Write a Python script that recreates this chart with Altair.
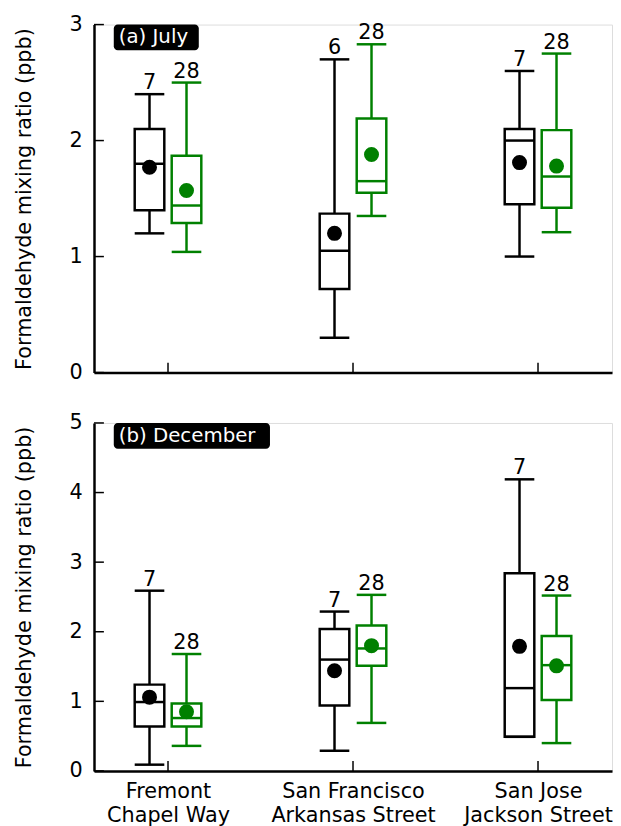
import altair as alt
import pandas as pd

# ---- data ----
site_lines = [["Fremont", "Chapel Way"], ["San Francisco", "Arkansas Street"], ["San Jose", "Jackson Street"]]
site_pos = [1, 2, 3]

# July (a)
jul_blk_lo = [1.20, 0.30, 1.00]
jul_blk_q1 = [1.40, 0.72, 1.45]
jul_blk_med = [1.80, 1.05, 2.00]
jul_blk_q3 = [2.10, 1.37, 2.10]
jul_blk_hi = [2.40, 2.70, 2.60]
jul_blk_mean = [1.77, 1.20, 1.81]
jul_blk_n = [7, 6, 7]

jul_grn_lo = [1.04, 1.35, 1.21]
jul_grn_q1 = [1.29, 1.55, 1.42]
jul_grn_med = [1.44, 1.65, 1.69]
jul_grn_q3 = [1.87, 2.19, 2.09]
jul_grn_hi = [2.50, 2.83, 2.75]
jul_grn_mean = [1.57, 1.88, 1.78]
jul_grn_n = [28, 28, 28]

# December (b)
dec_blk_lo = [0.09, 0.29, 0.49]
dec_blk_q1 = [0.64, 0.94, 0.49]
dec_blk_med = [0.99, 1.60, 1.19]
dec_blk_q3 = [1.24, 2.04, 2.84]
dec_blk_hi = [2.59, 2.29, 4.19]
dec_blk_mean = [1.06, 1.44, 1.79]
dec_blk_n = [7, 7, 7]

dec_grn_lo = [0.36, 0.69, 0.40]
dec_grn_q1 = [0.64, 1.51, 1.02]
dec_grn_med = [0.76, 1.76, 1.52]
dec_grn_q3 = [0.97, 2.09, 1.94]
dec_grn_hi = [1.68, 2.53, 2.52]
dec_grn_mean = [0.85, 1.80, 1.51]
dec_grn_n = [28, 28, 28]

jul_ticks = [0, 1, 2, 3]
dec_ticks = [0, 1, 2, 3, 4, 5]

GREEN = "#008000"
W, H = 524, 352
FONT = "DejaVu Sans"


def rows(group, offset, lo, q1, med, q3, hi, mean, n):
    out = []
    for i in range(3):
        out.append(dict(group=group, pos=site_pos[i], off=offset, lo=lo[i], q1=q1[i],
                        med=med[i], q3=q3[i], hi=hi[i], mean=mean[i], n=str(n[i])))
    return out


def panel(df, ticks, label, label_w, show_labels):
    xs = alt.Scale(domain=[0.6, 3.4], nice=False, zero=False)
    ys = alt.Scale(domain=[ticks[0], ticks[-1]], nice=False, zero=False)
    col = alt.Color("group:N", scale=alt.Scale(domain=["black", "green"], range=["black", GREEN]), legend=None)

    if show_labels:
        expr = " : ".join(
            f"datum.value == {p} ? {l!r}" for p, l in zip(site_pos[:-1], site_lines[:-1])
        ) + f" : {site_lines[-1]!r}"
        xaxis = alt.Axis(values=site_pos, tickSize=0, labelExpr=expr, labelFontSize=21,
                         labelPadding=10, labelLineHeight=24, title=None, grid=False,
                         domainColor="black", domainWidth=2.5, labelColor="black", labelFont=FONT)
    else:
        xaxis = alt.Axis(values=site_pos, tickSize=0, labels=False, title=None, grid=False,
                         domainColor="black", domainWidth=2.5)
    yaxis = alt.Axis(values=ticks, tickSize=0, labelFontSize=21, labelPadding=12, grid=False,
                     title="Formaldehyde mixing ratio (ppb)", titleFontSize=21, titleFontWeight="normal",
                     titleFont=FONT, labelFont=FONT, titlePadding=35, domainColor="black", domainWidth=2.5,
                     labelColor="black", titleColor="black")

    base = alt.Chart(df).transform_calculate(
        xc="datum.pos + datum.off", xl="datum.pos + datum.off - 0.08", xr="datum.pos + datum.off + 0.08"
    )
    X = lambda f: alt.X(f"{f}:Q", scale=xs, axis=xaxis)
    Y = lambda f: alt.Y(f"{f}:Q", scale=ys, axis=yaxis)

    lw = 2.5
    wlo = base.mark_rule(strokeWidth=lw).encode(x=X("xc"), y=Y("lo"), y2="q1", color=col)
    whi = base.mark_rule(strokeWidth=lw).encode(x=X("xc"), y=Y("q3"), y2="hi", color=col)
    clo = base.mark_rule(strokeWidth=lw).encode(x=X("xl"), x2="xr", y=Y("lo"), color=col)
    chi = base.mark_rule(strokeWidth=lw).encode(x=X("xl"), x2="xr", y=Y("hi"), color=col)
    box = base.mark_rect(filled=False, strokeWidth=lw).encode(x=X("xl"), x2="xr", y=Y("q1"), y2="q3", color=col)
    med = base.mark_rule(strokeWidth=lw).encode(x=X("xl"), x2="xr", y=Y("med"), color=col)
    mean = base.mark_point(filled=True, size=230, opacity=1, shape="circle").encode(x=X("xc"), y=Y("mean"), color=col)
    cnt = base.mark_text(baseline="bottom", dy=-1, fontSize=21, font=FONT, color="black").encode(
        x=X("xc"), y=Y("hi"), text="n:N")

    yt = alt.Chart(pd.DataFrame({"v": ticks})).mark_rule(color="black", strokeWidth=1.5).encode(
        y=alt.Y("v:Q", scale=ys, axis=yaxis), x=alt.value(0), x2=alt.value(10))
    xt = alt.Chart(pd.DataFrame({"p": site_pos})).mark_rule(color="black", strokeWidth=1.5).encode(
        x=alt.X("p:Q", scale=xs, axis=xaxis), y=alt.value(H), y2=alt.value(H - 10))

    lab = alt.Data(values=[{"t": label}])
    lrect = alt.Chart(lab).mark_rect(color="black", cornerRadius=4).encode(
        x=alt.value(20), x2=alt.value(20 + label_w), y=alt.value(0), y2=alt.value(26))
    ltext = alt.Chart(lab).mark_text(color="white", align="left", baseline="middle", fontSize=20, font=FONT).encode(
        x=alt.value(25), y=alt.value(13), text="t:N")

    return alt.layer(wlo, whi, clo, chi, box, med, mean, cnt, yt, xt, lrect, ltext).properties(width=W, height=H)


jul = pd.DataFrame(rows("black", -0.1, jul_blk_lo, jul_blk_q1, jul_blk_med, jul_blk_q3, jul_blk_hi, jul_blk_mean, jul_blk_n)
                   + rows("green", 0.1, jul_grn_lo, jul_grn_q1, jul_grn_med, jul_grn_q3, jul_grn_hi, jul_grn_mean, jul_grn_n))
dec = pd.DataFrame(rows("black", -0.1, dec_blk_lo, dec_blk_q1, dec_blk_med, dec_blk_q3, dec_blk_hi, dec_blk_mean, dec_blk_n)
                   + rows("green", 0.1, dec_grn_lo, dec_grn_q1, dec_grn_med, dec_grn_q3, dec_grn_hi, dec_grn_mean, dec_grn_n))

top = panel(jul, jul_ticks, "(a) July", 86, False)
bot = panel(dec, dec_ticks, "(b) December", 158, True)

chart = alt.vconcat(top, bot, spacing=28).resolve_scale(x="independent", y="independent").configure_view(
    stroke=None).configure(font=FONT, padding={"left": 5, "top": 0, "right": 0, "bottom": 0})

chart.save("out.html", embed_options={"renderer": "svg", "actions": False})
